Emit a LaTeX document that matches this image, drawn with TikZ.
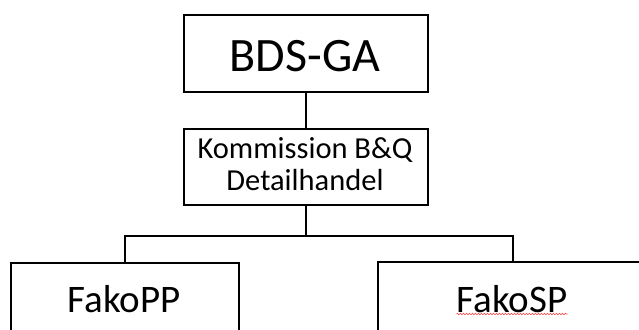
\documentclass[tikz,border=0pt]{standalone}
\usepackage{fontspec}
\setmainfont{Carlito}
\usetikzlibrary{decorations.pathmorphing}
\begin{document}
\begin{tikzpicture}[x=1pt,y=-1pt,
  box/.style={draw=black,line width=2pt,fill=white,inner sep=0pt,anchor=north west},
  conn/.style={draw=black,line width=2pt},
  lbl/.style={inner sep=0pt,anchor=base}]
\useasboundingbox (0,0) rectangle (639,329);
\clip (0,0) rectangle (639,329);
% boxes
\node[box,minimum width=244pt,minimum height=77pt] (top) at (183,14) {};
\node[box,minimum width=244pt,minimum height=76pt] (mid) at (183,128) {};
\node[box,minimum width=228pt,minimum height=100pt] (left) at (10,262) {};
\node[box,minimum width=270pt,minimum height=100pt] (right) at (377,261) {};
% labels
\node[lbl,font=\fontsize{48}{50}\selectfont] (ttop) at (305,71) {BDS-GA};
\node[lbl,font=\fontsize{30.5}{32}\selectfont] (tmid1) at (305,158) {Kommission B\&Q};
\node[lbl,font=\fontsize{30.5}{32}\selectfont] (tmid2) at (305,190) {Detailhandel};
\node[lbl,font=\fontsize{39}{41}\selectfont] (tleft) at (124,312) {FakoPP};
\node[lbl,font=\fontsize{39}{41}\selectfont] (tright) at (512,312) {FakoSP};
% spell-check squiggle
\draw[red!70,line width=0.6pt,decorate,decoration={snake,amplitude=0.8pt,segment length=3pt}]
  (tright.base west) ++(0,2) coordinate (sqa) -- (sqa -| tright.base east);
% connectors
\coordinate (bus) at (306,236);
\draw[conn] (top.south) -- (mid.north);
\draw[conn] (mid.south) -- (mid.south |- bus);
\draw[conn] (left.north) -- (left.north |- bus) -- (right.north |- bus) -- (right.north);
\end{tikzpicture}
\end{document}
